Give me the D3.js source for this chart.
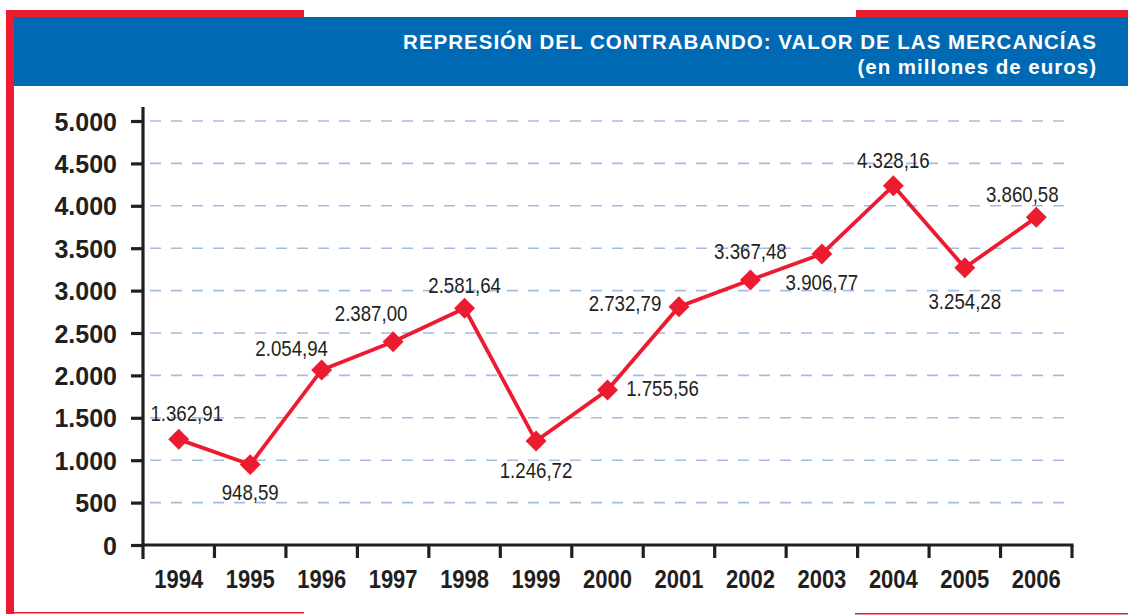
<!DOCTYPE html>
<html><head><meta charset="utf-8">
<script src="https://cdn.jsdelivr.net/npm/d3@7"></script>
<style>html,body{margin:0;padding:0;background:#fff;}svg{display:block;}</style>
</head><body>
<script>
// ---- data ----
const years = ["1994","1995","1996","1997","1998","1999","2000","2001","2002","2003","2004","2005","2006"];
const values = [1246, 948, 2064, 2397, 2791, 1226, 1828, 2810, 3125, 3432, 4237, 3270, 3864];
const valueLabels = ["1.362,91","948,59","2.054,94","2.387,00","2.581,64","1.246,72","1.755,56","2.732,79","3.367,48","3.906,77","4.328,16","3.254,28","3.860,58"];
const yTicks = [0,500,1000,1500,2000,2500,3000,3500,4000,4500,5000];
const yTickLabels = ["0","500","1.000","1.500","2.000","2.500","3.000","3.500","4.000","4.500","5.000"];
const titleLines = ["REPRESIÓN DEL CONTRABANDO: VALOR DE LAS MERCANCÍAS","(en millones de euros)"];
// label placement relative to each point [dx, dy]
const labelOffsets = [[8,-18],[0,35],[-30,-14],[-22,-21],[0,-15],[0,37],[55,6],[-54,4],[0,-21],[0,36],[0,-18],[0,41],[-14,-15]];

const W = 1128, H = 615;
const RED = "#ed1b2f", BLUE = "#0069b4", INK = "#231f20";
const FONT = "Liberation Sans, Arial, sans-serif";
const svg = d3.select("body").append("svg").attr("width", W).attr("height", H);

// frame
svg.append("rect").attr("x",6).attr("y",10).attr("width",298).attr("height",7).attr("fill",RED);
svg.append("rect").attr("x",856).attr("y",10).attr("width",272).attr("height",7).attr("fill",RED);
svg.append("rect").attr("x",6).attr("y",10).attr("width",8).attr("height",604).attr("fill",RED);
svg.append("rect").attr("x",14).attr("y",17).attr("width",1114).attr("height",69).attr("fill",BLUE);
svg.append("rect").attr("x",14).attr("y",612).attr("width",290).attr("height",1.5).attr("fill",RED);
svg.append("rect").attr("x",855).attr("y",613).attr("width",273).attr("height",1.5).attr("fill",RED);

// title
svg.append("text").attr("x",1097).attr("y",49).attr("text-anchor","end")
  .attr("font-family",FONT).attr("font-weight","bold")
  .attr("font-size",20.5).attr("letter-spacing",1).attr("fill","#fff").text(titleLines[0]);
svg.append("text").attr("x",1097).attr("y",74).attr("text-anchor","end")
  .attr("font-family",FONT).attr("font-weight","bold")
  .attr("font-size",20.5).attr("letter-spacing",1).attr("fill","#fff").text(titleLines[1]);

// scales
const x = d3.scaleBand().domain(years).range([143, 1072]);
const y = d3.scaleLinear().domain([0, 5000]).range([545, 121]);

// grid
svg.append("g").selectAll("line").data(yTicks.filter(d => d > 0)).join("line")
  .attr("x1",146).attr("x2",1070).attr("y1",d=>y(d)).attr("y2",d=>y(d))
  .attr("stroke","#a3bce2").attr("stroke-width",1.6).attr("stroke-dasharray","11,10")
  .attr("stroke-dashoffset",-4);

// y axis
const yAxis = d3.axisLeft(y).tickValues(yTicks).tickSize(12).tickPadding(14)
  .tickFormat((d,i) => yTickLabels[i]);
const gy = svg.append("g").attr("transform","translate(143,0)").call(yAxis);
gy.select(".domain").remove();
gy.selectAll(".tick line").attr("stroke",INK).attr("stroke-width",3.2);
gy.selectAll(".tick text").attr("font-family",FONT)
  .attr("font-weight","bold").attr("font-size",25).attr("fill",INK).attr("dy","0.36em");
svg.append("line").attr("x1",143).attr("x2",143).attr("y1",107).attr("y2",559)
  .attr("stroke",INK).attr("stroke-width",3.2);

// x axis
svg.append("line").attr("x1",141.5).attr("x2",1073.5).attr("y1",545).attr("y2",545)
  .attr("stroke",INK).attr("stroke-width",3.2);
const boundaries = years.map(d => x(d)).concat([x.range()[1]]);
svg.append("g").selectAll("line").data(boundaries.slice(1)).join("line")
  .attr("x1",d=>d).attr("x2",d=>d).attr("y1",545).attr("y2",558)
  .attr("stroke",INK).attr("stroke-width",3.2);
svg.append("g").selectAll("text").data(years).join("text")
  .attr("transform",d=>`translate(${x(d)+x.bandwidth()/2},588) scale(0.88,1)`)
  .attr("text-anchor","middle")
  .attr("font-family",FONT).attr("font-weight","bold")
  .attr("font-size",25).attr("fill",INK).text(d=>d);

// line
const cx = i => x(years[i]) + x.bandwidth()/2;
const line = d3.line().x((d,i)=>cx(i)).y(d=>y(d));
svg.append("path").datum(values).attr("d",line).attr("fill","none")
  .attr("stroke",RED).attr("stroke-width",3.8).attr("stroke-linejoin","miter");

// diamonds
svg.append("g").selectAll("rect").data(values).join("rect")
  .attr("x",-7.4).attr("y",-7.4).attr("width",14.8).attr("height",14.8)
  .attr("transform",(d,i)=>`translate(${cx(i)},${y(d)}) rotate(45)`)
  .attr("fill",RED);

// value labels
svg.append("g").selectAll("text").data(values).join("text")
  .attr("transform",(d,i)=>`translate(${cx(i)+labelOffsets[i][0]},${y(d)+labelOffsets[i][1]}) scale(0.83,1)`)
  .attr("text-anchor","middle")
  .attr("font-family",FONT)
  .attr("font-size",22.5).attr("fill",INK).text((d,i)=>valueLabels[i]);
</script>
</body></html>
